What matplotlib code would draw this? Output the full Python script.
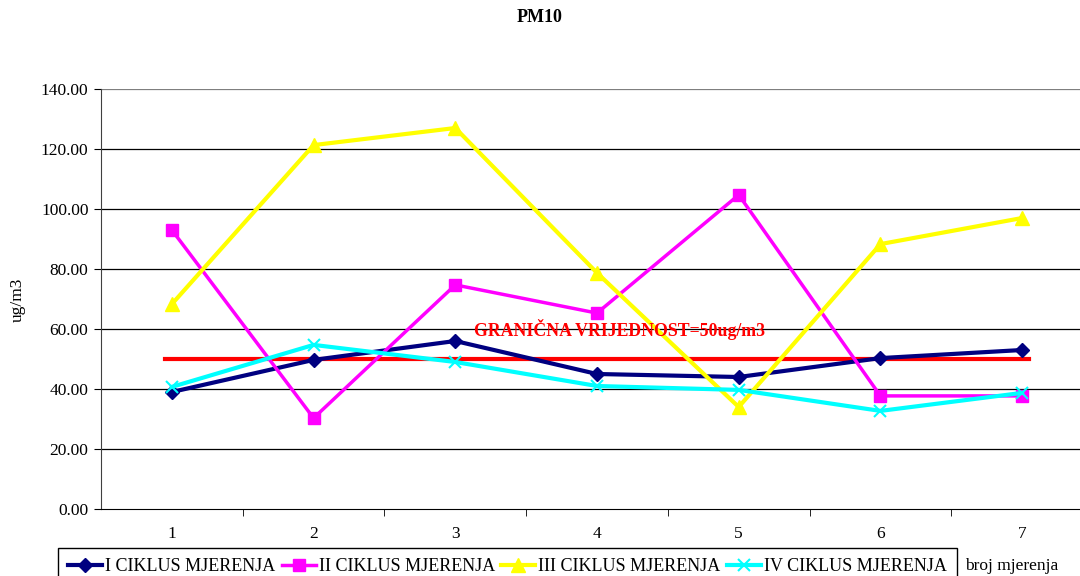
import matplotlib
matplotlib.use("Agg")
import matplotlib.pyplot as plt
from matplotlib.lines import Line2D

# measurement number on x, PM10 in ug/m3 on y
mjerenja = [1, 2, 3, 4, 5, 6, 7]
ciklus_1 = [39.0, 49.7, 56.0, 45.0, 44.0, 50.3, 53.0]
ciklus_2 = [93.0, 30.3, 74.7, 65.3, 104.7, 37.7, 37.7]
ciklus_3 = [68.3, 121.3, 127.0, 78.7, 34.0, 88.3, 97.0]
ciklus_4 = [40.7, 54.7, 49.0, 41.0, 39.7, 32.7, 38.7]
granica = 50
nazivi = ["I CIKLUS MJERENJA", "II CIKLUS MJERENJA",
          "III CIKLUS MJERENJA", "IV CIKLUS MJERENJA"]
yticks = [0, 20, 40, 60, 80, 100, 120, 140]

plt.rcParams["font.family"] = ["Liberation Serif", "DejaVu Serif"]

fig = plt.figure(figsize=(10.8, 5.76), dpi=100)
ax = fig.add_axes([101 / 1080, 1 - 509 / 576, 992 / 1080, 420 / 576])

for y in yticks[1:]:
    ax.axhline(y, color="#7f7f7f" if y == 140 else "black", lw=0.9, zorder=1)

ax.plot([0.95, 7.05], [granica, granica], color="#ff0000", lw=3, zorder=2)

stil = [
    dict(color="#000080", marker="D", ms=7, lw=3),
    dict(color="#ff00ff", marker="s", ms=9, lw=2.5),
    dict(color="#ffff00", marker="^", ms=10, lw=3),
    dict(color="#00ffff", marker="x", ms=8, lw=3, mew=1.5),
]
handles = []
for vals, naziv, s in zip([ciklus_1, ciklus_2, ciklus_3, ciklus_4], nazivi, stil):
    ax.plot(mjerenja, vals, zorder=3, **s)
    handles.append(Line2D([], [], label=naziv, **s))

ax.text(4.16, 59.7, "GRANIČNA VRIJEDNOST=50ug/m3", color="#ff0000",
        fontsize=12.8, fontweight="bold", ha="center", va="center", zorder=4)

ax.set_xlim(0.5, 7.5)
ax.set_ylim(0, 140)
ax.set_yticks(yticks)
ax.set_yticklabels([f"{v:.2f}" for v in yticks], fontsize=12.5)
ax.set_xticks(mjerenja)
ax.set_xticklabels([str(m) for m in mjerenja], fontsize=12.5)
ax.set_xticks([x + 0.5 for x in mjerenja[:-1]], minor=True)
ax.tick_params(axis="x", which="major", length=0, pad=12)
ax.tick_params(axis="x", which="minor", length=5, color="black")
ax.tick_params(axis="y", length=5, pad=4)
for side in ["top", "right"]:
    ax.spines[side].set_visible(False)
ax.spines["left"].set_color("#404040")
ax.spines["bottom"].set_color("black")

fig.text(18 / 1080, 1 - 300 / 576, "ug/m3", rotation=90, ha="center",
         va="center", fontsize=12.5)
fig.text(0.5, 1 - 18 / 576, "PM10", ha="center", va="center",
         fontsize=13, fontweight="bold")
fig.text(1012 / 1080, 1 - 566 / 576, "broj mjerenja", ha="center", va="center",
         fontsize=12.5)

fig.legend(handles=handles, loc="upper left", bbox_to_anchor=(58 / 1080, 1 - 548 / 576),
           ncol=4, frameon=True, fancybox=False, edgecolor="black",
           fontsize=13, handlelength=1.9, handletextpad=0.15, columnspacing=0.35,
           borderpad=0.55, borderaxespad=0, framealpha=1)

fig.savefig("out.png", dpi=100)
